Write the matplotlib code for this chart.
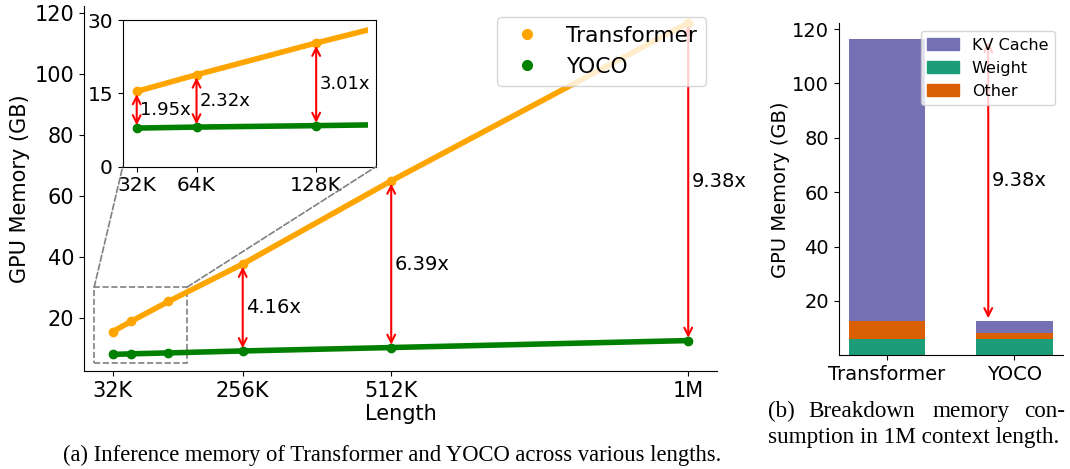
import matplotlib
matplotlib.use("Agg")
import matplotlib.pyplot as plt
from matplotlib.lines import Line2D
from matplotlib.patches import Rectangle, Patch, ConnectionPatch
import matplotlib.transforms as mtransforms

# ---------------- data ----------------
lengths_k = [32, 64, 128, 256, 512, 1024]
length_labels = ["32K", "256K", "512K", "1M"]
length_label_pos = [32, 256, 512, 1024]
transformer_mem = [15.4, 18.8, 25.3, 37.6, 64.9, 116.8]
yoco_mem = [7.9, 8.1, 8.4, 9.04, 10.16, 12.45]
ratios = ["1.95x", "2.32x", "3.01x", "4.16x", "6.39x", "9.38x"]

inset_ticks = [32, 64, 128]
inset_tick_labels = ["32K", "64K", "128K"]

bar_models = ["Transformer", "YOCO"]
bar_weight = [6.0, 6.0]
bar_other = [6.7, 2.2]
bar_kv = [103.6, 4.4]
bar_ratio = "9.38x"

c_tr = "orange"
c_yo = "green"
c_kv = "#7570b3"
c_w = "#1b9e77"
c_o = "#d95f02"

W, H = 1070, 469
fig = plt.figure(figsize=(W / 100, H / 100), dpi=100)

def ax_rect(l, t, r, b):
    return [l / W, 1 - b / H, (r - l) / W, (b - t) / H]

# ---------------- main axes ----------------
ax = fig.add_axes(ax_rect(84, 6.3, 717, 371))
ax.plot(lengths_k, transformer_mem, "-o", color=c_tr, lw=4, ms=6)
ax.plot(lengths_k, yoco_mem, "-o", color=c_yo, lw=4, ms=6)
ax.spines["top"].set_visible(False)
ax.spines["right"].set_visible(False)
ax.set_xticks(length_label_pos)
ax.set_xticklabels(length_labels)
ax.tick_params(labelsize=15)
ax.set_yticks([20, 40, 60, 80, 100, 120])
ax.set_xlabel("Length", fontsize=15, labelpad=2)
ax.set_ylabel("GPU Memory (GB)", fontsize=15, labelpad=3)

txt_off = mtransforms.offset_copy(ax.transData, fig=fig, x=2.5, y=0, units="points")
for i in range(3, 6):
    x = lengths_k[i]
    ax.annotate("", xy=(x, yoco_mem[i]), xytext=(x, transformer_mem[i]),
                arrowprops=dict(arrowstyle="<->", color="red", lw=1.5,
                                mutation_scale=14, shrinkA=2, shrinkB=2))
    ax.text(x, (yoco_mem[i] + transformer_mem[i]) / 2, ratios[i], transform=txt_off,
            ha="left", va="center", fontsize=14)

handles = [Line2D([], [], marker="o", color=c_tr, ls="", ms=7),
           Line2D([], [], marker="o", color=c_yo, ls="", ms=7)]
ax.legend(handles, ["Transformer", "YOCO"], loc="upper right", fontsize=15.7)

# zoom rectangle
ax.add_patch(Rectangle((0, 5), 160, 25, fill=False, ls="--", ec="gray", lw=1.2))

# ---------------- inset ----------------
axins = fig.add_axes(ax_rect(122.7, 20, 376, 166.7))
l1, = axins.plot(lengths_k, transformer_mem, "-o", color=c_tr, lw=4, ms=6)
l2, = axins.plot(lengths_k, yoco_mem, "-o", color=c_yo, lw=4, ms=6)
axins.set_xlim(24.5, 160)
axins.set_ylim(0, 30)
for ln in (l1, l2):
    ln.set_clip_path(Rectangle((0, -5), 155.5, 40, transform=axins.transData))
axins.set_xticks(inset_ticks)
axins.set_xticklabels(inset_tick_labels)
axins.set_yticks([0, 15, 30])
axins.tick_params(labelsize=14.5)
txt_off2 = mtransforms.offset_copy(axins.transData, fig=fig, x=2.5, y=0, units="points")
for i in range(0, 3):
    x = lengths_k[i]
    axins.annotate("", xy=(x, yoco_mem[i]), xytext=(x, transformer_mem[i]),
                   arrowprops=dict(arrowstyle="<->", color="red", lw=1.5,
                                   mutation_scale=14, shrinkA=2, shrinkB=2))
    axins.text(x, (yoco_mem[i] + transformer_mem[i]) / 2, ratios[i], transform=txt_off2,
               ha="left", va="center", fontsize=13)

for (xa, ya), (xb, yb) in [((0, 30), (0, 0)), ((160, 30), (1, 0))]:
    cp = ConnectionPatch(xyA=(xa, ya), coordsA=ax.transData,
                         xyB=(xb, yb), coordsB=axins.transAxes,
                         ls="--", color="gray", lw=1.2)
    fig.add_artist(cp)

# ---------------- bar chart ----------------
bx = fig.add_axes(ax_rect(838.7, 23.3, 1062.7, 355.3))
xpos = [0, 1]
bottom2 = [a + b for a, b in zip(bar_weight, bar_other)]
bx.bar(xpos, bar_weight, width=0.6, color=c_w)
bx.bar(xpos, bar_other, width=0.6, bottom=bar_weight, color=c_o)
bx.bar(xpos, bar_kv, width=0.6, bottom=bottom2, color=c_kv)
bx.spines["top"].set_visible(False)
bx.spines["right"].set_visible(False)
bx.set_xticks(xpos)
bx.set_xticklabels(bar_models)
bx.set_yticks([20, 40, 60, 80, 100, 120])
bx.tick_params(labelsize=14)
bx.set_ylabel("GPU Memory (GB)", fontsize=14, labelpad=1.5)
tot = [a + b for a, b in zip(bottom2, bar_kv)]
xa = 0.795
bx.annotate("", xy=(xa, tot[1]), xytext=(xa, tot[0]),
            arrowprops=dict(arrowstyle="<->", color="red", lw=1.5, mutation_scale=14))
bx.text(xa, (tot[0] + tot[1]) / 2,
        bar_ratio, transform=mtransforms.offset_copy(bx.transData, fig=fig, x=2.5, y=0, units="points"),
        ha="left", va="center", fontsize=14)
lh = [Patch(color=c_kv), Patch(color=c_w), Patch(color=c_o)]
bx.legend(lh, ["KV Cache", "Weight", "Other"], loc="upper right", fontsize=11.5)

# ---------------- captions ----------------
serif = "Liberation Serif"
fig.text(392 / W, 1 - 455 / H,
         "(a) Inference memory of Transformer and YOCO across various lengths.",
         ha="center", va="center", fontsize=16.3, family=serif)
for word, xl, ha in [("(b)", 768, "left"), ("Breakdown", 808, "left"),
                     ("memory", 932, "left"), ("con-", 1065, "right")]:
    fig.text(xl / W, 1 - 411 / H, word, ha=ha, va="center", fontsize=16.7, family=serif)
fig.text(768 / W, 1 - 437 / H, "sumption in 1M context length.",
         ha="left", va="center", fontsize=16.7, family=serif)

fig.savefig("out.png", dpi=100)
